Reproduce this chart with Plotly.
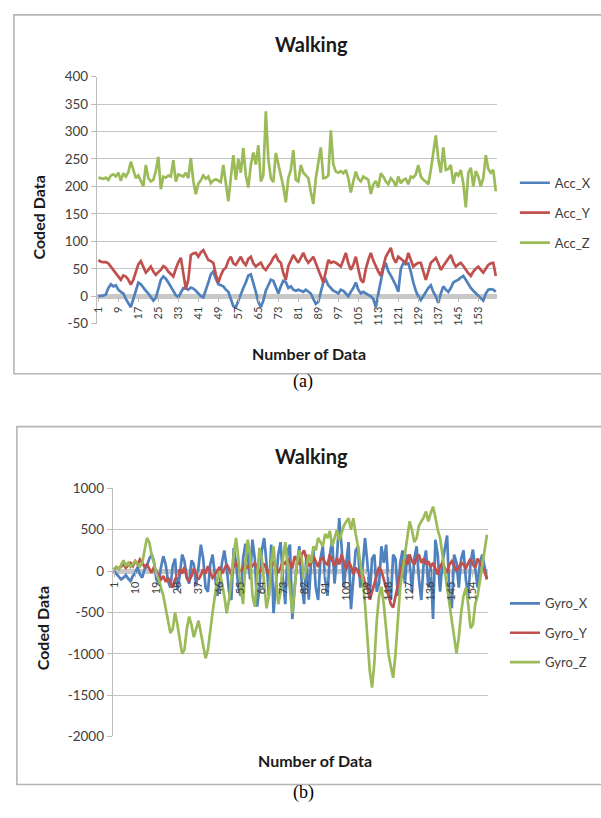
import plotly.graph_objects as go

W, H = 601, 818

# ---------------- data ----------------
sample_no = list(range(1, 161))
acc_ticks = list(range(1, 161, 8))
gyro_ticks = list(range(1, 161, 9))
acc_yticks = list(range(-50, 401, 50))
gyro_yticks = list(range(-2000, 1001, 500))

acc_x = [0, 0, 1, 3, 15, 22, 18, 20, 12, 8,
         5, -5, -12, -20, -5, 12, 25, 22, 15, 10,
         5, -2, -8, -3, 15, 30, 36, 32, 25, 18,
         10, 2, -2, 8, 15, 14, 12, 16, 14, 10,
         5, 0, -2, 10, 25, 40, 45, 32, 22, 20,
         18, 12, 8, -5, -18, -20, -8, 5, 15, 25,
         38, 40, 25, 8, -10, -20, -8, 10, 20, 30,
         28, 15, 5, 18, 28, 26, 15, 18, 12, 10,
         12, 10, 8, 12, 8, 5, -5, -14, -10, 10,
         25, 30, 20, 15, 10, 8, 5, 12, 10, 5,
         0, 8, 15, 25, 12, 5, 8, 5, 2, 0,
         -5, -20, 5, 30, 50, 61, 45, 38, 30, 20,
         8, 50, 60, 58, 60, 45, 25, 10, 0, -7,
         0, 8, 15, 20, 8, 0, -12, 5, 18, 12,
         8, 15, 25, 28, 30, 34, 37, 30, 22, 15,
         10, 5, 0, -4, -8, 5, 12, 13, 12, 8]

acc_y = [66, 63, 62, 62, 60, 54, 46, 40, 35, 30,
         38, 36, 30, 21, 30, 43, 58, 64, 55, 43,
         48, 54, 45, 39, 44, 48, 55, 52, 45, 40,
         36, 50, 62, 70, 40, 13, 30, 75, 78, 79,
         72, 80, 84, 75, 66, 64, 61, 40, 25, 38,
         48, 52, 65, 72, 60, 57, 65, 72, 62, 57,
         68, 72, 60, 54, 58, 61, 52, 48, 55, 61,
         70, 75, 65, 61, 42, 30, 55, 66, 75, 68,
         61, 70, 79, 68, 61, 66, 72, 60, 48, 38,
         25, 45, 66, 61, 63, 61, 58, 54, 66, 79,
         60, 48, 57, 72, 50, 30, 25, 50, 66, 79,
         65, 54, 45, 37, 55, 72, 80, 88, 70, 61,
         72, 68, 64, 61, 79, 65, 54, 58, 61, 61,
         45, 30, 45, 61, 65, 70, 60, 48, 55, 61,
         68, 75, 62, 54, 58, 61, 55, 48, 42, 37,
         45, 50, 54, 48, 43, 50, 57, 60, 61, 37]

acc_z = [216, 215, 214, 216, 212, 220, 222, 218, 225, 210,
         224, 218, 226, 245, 230, 215, 220, 210, 200, 239,
         215, 209, 212, 228, 254, 195, 218, 216, 220, 218,
         248, 209, 222, 220, 218, 225, 215, 252, 210, 186,
         205, 211, 220, 214, 218, 206, 211, 213, 210, 208,
         239, 205, 173, 216, 257, 212, 250, 225, 270, 220,
         198, 239, 262, 240, 275, 209, 220, 337, 250, 215,
         208, 261, 240, 218, 200, 171, 215, 230, 266, 212,
         209, 239, 225, 220, 215, 190, 168, 215, 245, 271,
         215, 216, 220, 302, 240, 227, 225, 228, 224, 230,
         215, 189, 209, 227, 214, 209, 218, 215, 212, 186,
         204, 210, 198, 224, 218, 209, 204, 215, 210, 200,
         218, 206, 212, 214, 204, 218, 216, 222, 239, 218,
         212, 209, 204, 230, 265, 293, 250, 225, 271, 230,
         232, 239, 205, 225, 220, 230, 205, 162, 225, 234,
         200, 228, 218, 200, 215, 257, 232, 225, 230, 191]

gyro_x = [0, -30, -60, -100, -80, -50, -90, -120, -60, -20, 50, -40, -80, 20, 60,
          150, 200, 120, -100, -150, 50, 180, 80, -120, -200, 60, 150, -225, -50, 200,
          120, -80, -150, 130, 80, -180, 50, 320, 150, -200, -250, 80, 200, -50, -300,
          -150, 100, 250, 50, -250, -350, 280, 100, -200, -300, 150, 330, 200, -100, 380,
          150, -430, -200, 250, 400, 100, -300, 320, -510, -150, 200, 350, -100, -400, 250,
          320, -580, -200, 100, 300, -150, -400, 200, -345, 100, 250, -200, -350, 150, 300,
          -100, -300, 200, 380, -150, 150, 640, 300, -200, 100, 350, -460, -100, 250, 300,
          -200, 50, 400, 100, -300, 150, 200, -250, -150, 300, 100, 320, -200, -350, 200,
          150, -300, 100, 250, -150, 200, 100, -250, 150, 300, -100, -350, 100, 250, -200,
          50, -580, 380, 200, -250, 100, 250, 430, -300, -450, 200, 100, -200, 150, 250,
          -100, -310, 100, 260, 50, -200, 100, 200, 50, -100]

gyro_y = [20, 50, 30, 60, 80, 40, 70, 100, 60, 120, 80, 140, 100, 50, 80,
          30, -20, 50, 0, -50, -100, -60, -130, -80, -150, -200, -100, -50, 20, -30,
          50, -80, -120, -60, 30, -40, -100, -50, 20, -30, 60, -20, -80, -40, 10,
          50, -30, 20, 80, 30, -50, 60, 100, 40, -20, 50, 90, 30, 80, 60,
          100, 40, -30, 50, 90, 20, -40, 60, 100, 50, -20, 40, 120, 80, 150,
          100, 30, 180, 120, 80, 200, 250, 150, 60, 100, 180, 120, 50, 140, 160,
          100, 80, 200, 120, 60, 160, 80, 200, 100, 20, 120, 60, -35, 40, 0,
          -80, -35, -150, -190, -345, -250, -150, -50, 50, 0, -100, -200, -300, -400, -440,
          -300, -150, 0, 100, 150, 80, 200, 120, 80, 160, 200, 100, 150, 80, 120,
          50, 100, 20, -40, 60, 100, 40, -20, 80, 120, 60, 0, 50, 100, 80,
          30, 100, 150, 80, 40, 150, 100, 50, 0, -100]

gyro_z = [30, 50, 20, 80, 130, 60, 100, 50, 80, 120, 85, 60, 100, 250, 400,
          350, 200, 100, -30, -100, -200, -300, -450, -600, -750, -700, -500, -650, -850, -1000,
          -950, -700, -550, -650, -800, -700, -600, -750, -900, -1055, -950, -700, -500, -300, -100,
          0, -150, -300, -510, -350, -100, 200, 400, 150, -200, -400, 100, 380, 200, -300,
          -430, -100, 280, 150, -200, -450, -300, 100, 300, -100, -400, -250, 150, 350, 50,
          -300, -510, -200, 100, 250, 150, -100, 50, 200, 100, 300, 250, 400, 350, 300,
          450, 400, 485, 300, 400, 500, 370, 450, 550, 600, 640, 500, 640, 450, 300,
          100, -100, -400, -800, -1200, -1410, -1100, -600, -300, -190, -400, -700, -1000, -1150, -1290,
          -1000, -600, -200, 0, 200, 400, 600, 500, 350, 400, 550, 600, 650, 720, 600,
          700, 780, 650, 500, 400, 200, 0, -200, -450, -650, -800, -995, -800, -500, -300,
          -200, -400, -690, -650, -400, -300, -100, 100, 300, 440]

acc_range = [-50, 400]
gyro_range = [-2000, 1000]

for s in (acc_x, acc_y, acc_z, gyro_x, gyro_y, gyro_z):
    assert len(s) == 160, len(s)

# ---------------- style ----------------
BLUE, RED, GREEN = "#4F81BD", "#C0504D", "#9BBB59"
FONT = "Lato"
GRID = "#c4c4c4"
TXT = "#404040"


def fx(p):
    return p / W


def fy(p):
    return 1 - p / H


fig = go.Figure()

for name, vals, col in (("Acc_X", acc_x, BLUE), ("Acc_Y", acc_y, RED), ("Acc_Z", acc_z, GREEN)):
    fig.add_trace(go.Scatter(x=sample_no, y=vals, mode="lines", name=name,
                             line=dict(color=col, width=2.7), xaxis="x", yaxis="y",
                             legend="legend", legendgroup=name))
for name, vals, col in (("Gyro_X", gyro_x, BLUE), ("Gyro_Y", gyro_y, RED), ("Gyro_Z", gyro_z, GREEN)):
    fig.add_trace(go.Scatter(x=sample_no, y=vals, mode="lines", name=name,
                             line=dict(color=col, width=2.7), xaxis="x2", yaxis="y2",
                             legend="legend2", legendgroup=name))

# plot-area pixel boxes
A = dict(l=92, r=496, t=70, b=322)
B = dict(l=108, r=487, t=490, b=743)


def zero_pos(box, rng):
    d0, d1 = fy(box["b"]), fy(box["t"])
    return d0 + (0 - rng[0]) / (rng[1] - rng[0]) * (d1 - d0)


def yax(box, rng, ticks, anchor):
    return dict(domain=[fy(box["b"]), fy(box["t"])], range=rng,
                tickmode="array", tickvals=ticks, ticktext=[str(t) for t in ticks],
                showgrid=True, gridcolor=GRID, gridwidth=1.4,
                showline=True, linecolor="#bdbdbd", linewidth=1.4,
                ticks="outside", ticklen=5, tickcolor="#bdbdbd",
                zeroline=True, zerolinecolor="#c8c8c8", zerolinewidth=5,
                tickfont=dict(family=FONT, size=13.5, color=TXT),
                anchor=anchor, fixedrange=True)


def xax(box, rng_y, ticks):
    return dict(domain=[fx(box["l"]), fx(box["r"])], range=[0.5, 160.5],
                tickmode="array", tickvals=ticks, ticktext=[str(t) for t in ticks],
                tickangle=-90, ticks="outside", ticklen=5, tickcolor="#bdbdbd",
                showgrid=False, showline=False, zeroline=False,
                tickfont=dict(family=FONT, size=11, color=TXT),
                anchor="free", position=zero_pos(box, rng_y), fixedrange=True)


fig.update_layout(
    width=W, height=H, margin=dict(l=0, r=0, t=0, b=0),
    paper_bgcolor="white", plot_bgcolor="white",
    xaxis=xax(A, acc_range, acc_ticks),
    yaxis=yax(A, acc_range, acc_yticks, "x"),
    xaxis2=xax(B, gyro_range, gyro_ticks),
    yaxis2=yax(B, gyro_range, gyro_yticks, "x2"),
    legend=dict(x=fx(514), y=fy(163), xanchor="left", yanchor="top",
                font=dict(family=FONT, size=13, color=TXT), tracegroupgap=10,
                bgcolor="rgba(0,0,0,0)"),
    legend2=dict(x=fx(504), y=fy(592), xanchor="left", yanchor="top",
                 font=dict(family=FONT, size=13, color=TXT), tracegroupgap=9.5,
                 bgcolor="rgba(0,0,0,0)"),
    showlegend=True,
)

# chart frames
for (x0, y0, x1, y1) in ((8, 7, 605, 373), (11, 427, 605, 792)):
    fig.add_shape(type="rect", xref="paper", yref="paper",
                  x0=fx(x0), y0=fy(y1), x1=fx(x1), y1=fy(y0),
                  line=dict(color="#b5b5b5", width=1.6), fillcolor="rgba(0,0,0,0)",
                  layer="below")

ann = []


def text(x, y, s, size, bold=False, angle=0, family=FONT, color="#1a1a1a"):
    ann.append(dict(x=fx(x), y=fy(y), xref="paper", yref="paper", text=("<b>%s</b>" % s) if bold else s,
                    showarrow=False, xanchor="center", yanchor="middle", textangle=angle,
                    font=dict(family=family, size=size, color=color)))


text(309, 37, "Walking", 20, bold=True)
text(306, 352, "Number of Data", 16, bold=True)
text(33, 214, "Coded Data", 16, bold=True, angle=-90)
text(300, 381, "(a)", 18, family="Liberation Serif", color="black")

text(309, 457, "Walking", 20, bold=True)
text(312, 768, "Number of Data", 16, bold=True)
text(37, 633, "Coded Data", 16, bold=True, angle=-90)
text(300, 800, "(b)", 18, family="Liberation Serif", color="black")

fig.update_layout(annotations=ann)

fig.write_html("out.html", config=dict(displayModeBar=False),
               post_script="document.body.style.margin='0';document.body.style.padding='0';"
                           "document.documentElement.style.overflow='hidden';")
